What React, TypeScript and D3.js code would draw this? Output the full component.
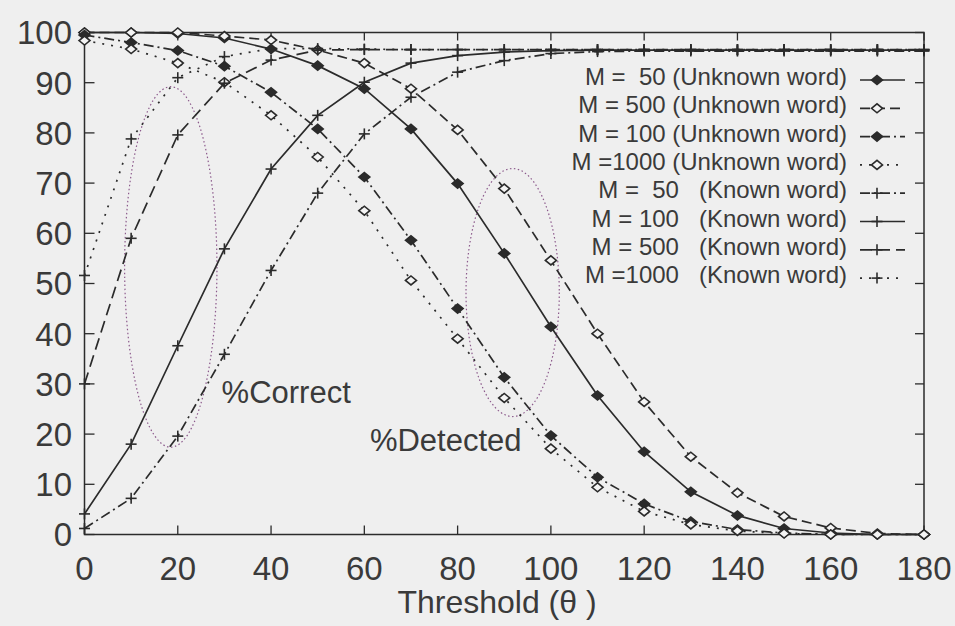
import React from "react";
import * as d3 from "d3";

const thresholds = [0, 10, 20, 30, 40, 50, 60, 70, 80, 90, 100, 110, 120, 130, 140, 150, 160, 170, 180];

const unknownM50 = [100, 100, 99.8, 98.9, 96.7, 93.4, 88.8, 80.8, 69.9, 56, 41.4, 27.7, 16.5, 8.5, 3.8, 1.2, 0.3, 0, 0];
const unknownM500 = [100, 100, 100, 99.3, 98.5, 96.5, 93.9, 88.8, 80.6, 68.9, 54.6, 40, 26.4, 15.5, 8.3, 3.6, 1.3, 0.2, 0];
const unknownM100 = [99.5, 98, 96.4, 93.3, 88.1, 80.8, 71.2, 58.6, 45, 31.3, 19.7, 11.4, 6.1, 2.6, 1, 0.3, 0, 0, 0];
const unknownM1000 = [98.4, 96.7, 93.9, 90.1, 83.5, 75.2, 64.5, 50.6, 39, 27.2, 17.1, 9.4, 4.6, 2, 0.7, 0.2, 0, 0, 0];
const knownM50 = [1.2, 7.2, 19.6, 35.9, 52.6, 68, 79.8, 87.1, 92.1, 94.4, 95.8, 96.2, 96.3, 96.3, 96.3, 96.3, 96.3, 96.3, 96.3];
const knownM100 = [4.1, 18, 37.6, 56.9, 72.8, 83.5, 90.1, 93.9, 95.4, 96.1, 96.4, 96.5, 96.5, 96.5, 96.5, 96.5, 96.5, 96.5, 96.5];
const knownM500 = [30, 59, 79.6, 89.9, 94.5, 96.5, 96.6, 96.6, 96.6, 96.6, 96.6, 96.6, 96.6, 96.6, 96.6, 96.6, 96.6, 96.6, 96.6];
const knownM1000 = [51.6, 78.8, 91, 95.2, 96.8, 96.8, 96.7, 96.6, 96.6, 96.6, 96.6, 96.6, 96.6, 96.6, 96.6, 96.6, 96.6, 96.6, 96.6];

const xTicks = [0, 20, 40, 60, 80, 100, 120, 140, 160, 180];
const yTicks = [0, 10, 20, 30, 40, 50, 60, 70, 80, 90, 100];

type Marker = "diamondFilled" | "diamondOpen" | "plus";
const seriesList: { label: string; values: number[]; dash: string; marker: Marker }[] = [
  { label: "M =  50 (Unknown word)", values: unknownM50, dash: "none", marker: "diamondFilled" },
  { label: "M = 500 (Unknown word)", values: unknownM500, dash: "10,5", marker: "diamondOpen" },
  { label: "M = 100 (Unknown word)", values: unknownM100, dash: "10,4,2,4", marker: "diamondFilled" },
  { label: "M =1000 (Unknown word)", values: unknownM1000, dash: "2,7", marker: "diamondOpen" },
  { label: "M =  50   (Known word)", values: knownM50, dash: "10,4,2,4", marker: "plus" },
  { label: "M = 100   (Known word)", values: knownM100, dash: "none", marker: "plus" },
  { label: "M = 500   (Known word)", values: knownM500, dash: "12,6", marker: "plus" },
  { label: "M =1000   (Known word)", values: knownM1000, dash: "2,7", marker: "plus" },
];

// annotation ellipses, in data units
const ellipses = [
  { cx: 18.5, cy: 53.3, rx: 9.9, ry: 35.9 },
  { cx: 91.8, cy: 48.2, rx: 10, ry: 24.7 },
];
const annotations = [
  { text: "%Correct", x: 29.4, y: 26.2 },
  { text: "%Detected", x: 61.2, y: 16.7 },
];

const W = 955;
const H = 626;
const INK = "#2b2b2b";
const TEXT = "#3a3a3a";
const BG = "#efefef";
const FONT = "'Liberation Sans', Arial, Helvetica, sans-serif";

function MarkerShape({ type, x, y }: { type: Marker; x: number; y: number }) {
  if (type === "plus") {
    return (
      <g stroke={INK} strokeWidth={1.6}>
        <line x1={x - 5.5} x2={x + 5.5} y1={y} y2={y} />
        <line x1={x} x2={x} y1={y - 5.5} y2={y + 5.5} />
      </g>
    );
  }
  const hw = 5.5;
  const hh = 4.5;
  const d = `M${x - hw},${y}L${x},${y - hh}L${x + hw},${y}L${x},${y + hh}Z`;
  return (
    <path
      d={d}
      fill={type === "diamondFilled" ? INK : "#f4f4f4"}
      stroke={INK}
      strokeWidth={1.6}
    />
  );
}

export default function App() {
  const x = d3.scaleLinear().domain([0, 180]).range([84.5, 924]);
  const y = d3.scaleLinear().domain([0, 100]).range([534.5, 32.5]);
  const line = d3
    .line<number>()
    .x((_, i) => x(thresholds[i]))
    .y((v) => y(v));

  const [x0, x1] = x.range();
  const [y0, y1] = y.range();

  const legendRight = 847;
  const legendTop = 85;
  const legendStep = 28.3;

  return (
    <svg
      width={W}
      height={H}
      style={{ position: "absolute", left: 0, top: 0, background: BG }}
      fontFamily={FONT}
    >
      <rect x={0} y={0} width={W} height={H} fill={BG} />

      {/* frame */}
      <rect x={x0} y={y1} width={x1 - x0} height={y0 - y1} fill="none" stroke={INK} strokeWidth={1.5} />

      {/* ticks */}
      {xTicks.map((t) => (
        <g key={"xt" + t}>
          <line x1={x(t)} x2={x(t)} y1={y0} y2={y0 - 9} stroke={INK} strokeWidth={1.3} />
          <line x1={x(t)} x2={x(t)} y1={y1} y2={y1 + 8} stroke={INK} strokeWidth={1.3} />
          <text x={x(t)} y={580} textAnchor="middle" fontSize={33} fill={TEXT}>
            {t}
          </text>
        </g>
      ))}
      {yTicks.map((t) => (
        <g key={"yt" + t}>
          <line x1={x0} x2={x0 + 10} y1={y(t)} y2={y(t)} stroke={INK} strokeWidth={1.3} />
          <line x1={x1} x2={x1 - 9} y1={y(t)} y2={y(t)} stroke={INK} strokeWidth={1.3} />
          <text x={72} y={y(t)} dy="0.36em" textAnchor="end" fontSize={33} fill={TEXT}>
            {t}
          </text>
        </g>
      ))}

      {/* axis title */}
      <text x={497} y={613} textAnchor="middle" fontSize={32} fill={TEXT} xmlSpace="preserve" style={{ whiteSpace: "pre" }}>
        Threshold (θ )
      </text>

      {/* ellipses */}
      {ellipses.map((e, i) => (
        <ellipse
          key={"el" + i}
          cx={x(e.cx)}
          cy={y(e.cy)}
          rx={x(e.rx) - x(0)}
          ry={y(0) - y(e.ry)}
          fill="none"
          stroke="#8c5a8c"
          strokeWidth={1.2}
          strokeDasharray="1.5,2.5"
        />
      ))}

      {/* series */}
      {seriesList.map((s, si) => (
        <g key={"s" + si}>
          <path
            d={line(s.values) || ""}
            fill="none"
            stroke={INK}
            strokeWidth={1.7}
            strokeDasharray={s.dash}
          />
          {s.values.map((v, i) => (
            <MarkerShape key={i} type={s.marker} x={x(thresholds[i])} y={y(v)} />
          ))}
        </g>
      ))}

      {/* annotations */}
      {annotations.map((a) => (
        <text key={a.text} x={x(a.x)} y={y(a.y)} fontSize={31} fill={TEXT}>
          {a.text}
        </text>
      ))}

      {/* legend */}
      {seriesList.map((s, i) => {
        const by = legendTop + i * legendStep;
        const ly = by - 5;
        return (
          <g key={"lg" + i}>
            <text
              x={legendRight}
              y={by}
              textAnchor="end"
              fontSize={24}
              fill={TEXT}
              style={{ whiteSpace: "pre" }}
              xmlSpace="preserve"
            >
              {s.label}
            </text>
            <line
              x1={860}
              x2={905}
              y1={ly}
              y2={ly}
              stroke={INK}
              strokeWidth={1.7}
              strokeDasharray={s.dash}
            />
            <MarkerShape type={s.marker} x={877} y={ly} />
          </g>
        );
      })}
    </svg>
  );
}
